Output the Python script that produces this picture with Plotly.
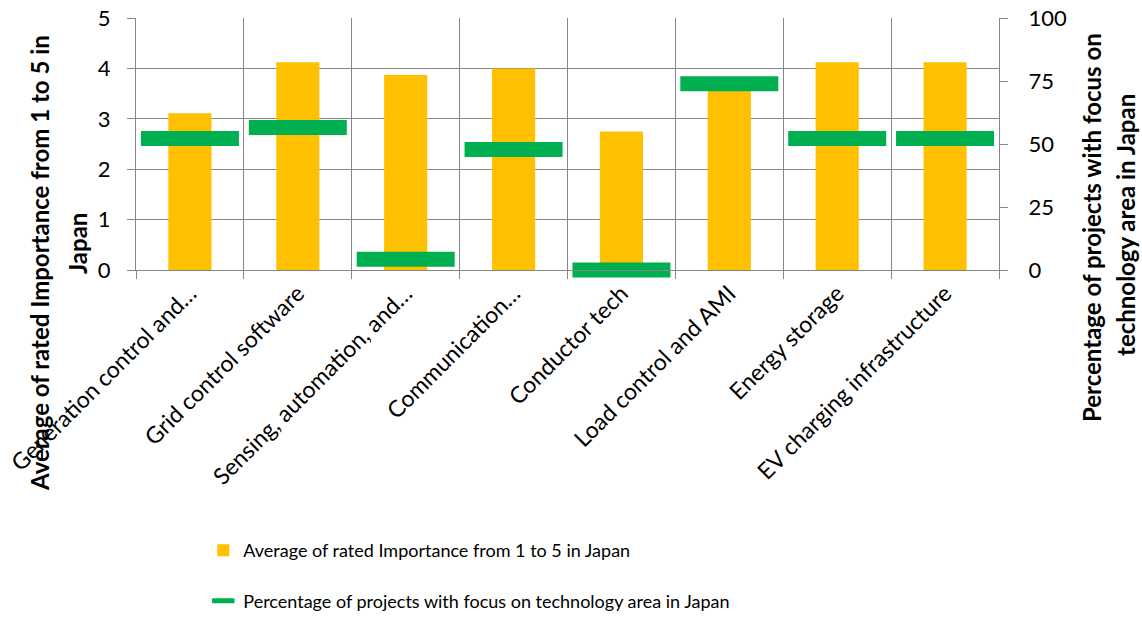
import plotly.graph_objects as go

# Technology areas (category axis)
categories = [
    "Generation control and…",
    "Grid control software",
    "Sensing, automation, and…",
    "Communication…",
    "Conductor tech",
    "Load control and AMI",
    "Energy storage",
    "EV charging infrastructure",
]

# Average rated importance (1-5 scale, left axis)
importance = [3.11, 4.12, 3.87, 4.0, 2.75, 3.75, 4.12, 4.12]

# Share of projects focusing on each area, % (right axis)
project_share = [52.2, 56.5, 4.3, 47.8, 0.0, 73.9, 52.2, 52.2]

left_ticks = [0, 1, 2, 3, 4, 5]
right_ticks = [0, 25, 50, 75, 100]

GRID = "#878787"
ORANGE = "#FFC000"
GREEN = "#00B050"
FONT = "Lato"

fig = go.Figure()

fig.add_trace(go.Bar(
    x=categories,
    y=importance,
    name="Average of rated Importance from 1 to 5 in Japan",
    marker=dict(color=ORANGE, line=dict(width=0)),
    width=0.4,
    legendgroup="a",
    yaxis="y",
))

fig.add_trace(go.Scatter(
    x=categories,
    y=project_share,
    name="Percentage of projects with focus on technology area in Japan",
    mode="markers",
    marker=dict(symbol="line-ew", size=70, color=GREEN,
                line=dict(color=GREEN, width=15)),
    cliponaxis=False,
    legendgroup="b",
    yaxis="y2",
))

fig.update_layout(
    width=1142,
    height=617,
    margin=dict(l=136, r=143, t=18, b=347, autoexpand=False),
    paper_bgcolor="white",
    plot_bgcolor="white",
    font=dict(family=FONT, size=22, color="black"),
    showlegend=True,
    xaxis=dict(
        type="category",
        range=[-0.5, len(categories) - 0.5],
        tickson="boundaries",
        ticks="outside",
        ticklen=8,
        tickcolor=GRID,
        tickwidth=1,
        showgrid=True,
        gridcolor=GRID,
        gridwidth=1,
        showline=True,
        linecolor=GRID,
        linewidth=1,
        tickangle=-45,
        tickfont=dict(size=23),
        automargin=False,
    ),
    yaxis=dict(
        range=[0, 5],
        tickvals=left_ticks,
        ticks="outside",
        ticklen=8,
        tickcolor=GRID,
        showgrid=True,
        gridcolor=GRID,
        gridwidth=1,
        showline=True,
        linecolor=GRID,
        zeroline=False,
        ticklabelstandoff=12,
        automargin=False,
    ),
    yaxis2=dict(
        range=[0, 100],
        tickvals=right_ticks,
        overlaying="y",
        side="right",
        ticks="outside",
        ticklen=8,
        tickcolor=GRID,
        showgrid=False,
        showline=True,
        linecolor=GRID,
        zeroline=False,
        ticklabelstandoff=16,
        automargin=False,
    ),
    legend=dict(
        orientation="v",
        x=0.078,
        xanchor="left",
        y=-1.04,
        yanchor="top",
        font=dict(family=FONT, size=18),
        tracegroupgap=24,
        bgcolor="rgba(0,0,0,0)",
    ),
    annotations=[
        dict(text="<b>Average of rated Importance from 1 to 5 in</b>",
             xref="paper", yref="paper", x=-0.1112, y=0.0278,
             xanchor="center", yanchor="middle", textangle=-90,
             showarrow=False, font=dict(size=24)),
        dict(text="<b>Japan</b>",
             xref="paper", yref="paper", x=-0.0684, y=0.107,
             xanchor="center", yanchor="middle", textangle=-90,
             showarrow=False, font=dict(size=24)),
        dict(text="<b>Percentage of projects with focus on</b>",
             xref="paper", yref="paper", x=1.1078, y=0.1667,
             xanchor="center", yanchor="middle", textangle=-90,
             showarrow=False, font=dict(size=24)),
        dict(text="<b>technology area in Japan</b>",
             xref="paper", yref="paper", x=1.1472, y=0.179,
             xanchor="center", yanchor="middle", textangle=-90,
             showarrow=False, font=dict(size=24)),
    ],
)

fig.write_html("out.html")
